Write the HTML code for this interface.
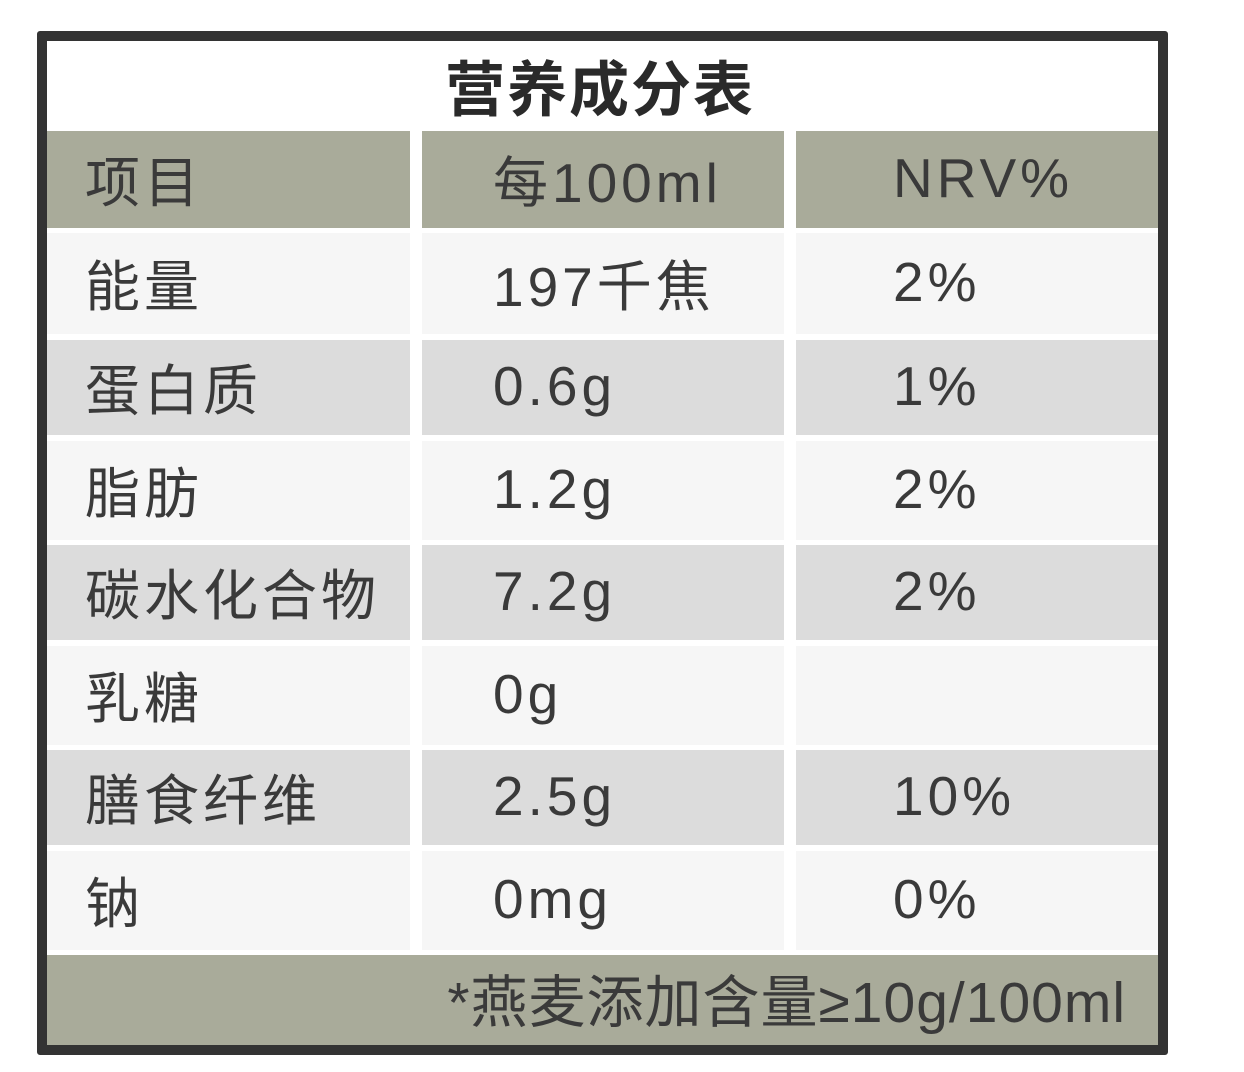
<!DOCTYPE html>
<html><head><meta charset="utf-8"><style>
body{margin:0;width:1244px;height:1072px;background:#fff;position:relative;overflow:hidden;font-family:"Liberation Sans","Noto Sans CJK SC",sans-serif;color:#3a3a3a}
.frame{position:absolute;left:37px;top:31px;width:1111px;height:1004px;border:10px solid #333;background:#fff;border-radius:3px}
.c{position:absolute;display:flex;align-items:center;font-size:55px;box-sizing:border-box;white-space:nowrap;letter-spacing:4px;padding-bottom:4px}
.n{letter-spacing:4px}
.h{background:#a9ab9a}
.g{background:#dcdcdc}
.w{background:#f6f6f6}
.t{position:absolute;left:0;width:1200px;top:46px;text-align:center;font-size:60px;letter-spacing:2px;font-weight:bold;color:#2a2a2a;font-family:"Noto Sans CJK SC",sans-serif;line-height:80px}
</style></head><body>
<div class="frame"></div>
<div class="t">营养成分表</div>
<div class="c h" style="left:47px;top:131px;width:363px;height:97px;padding-left:38px">项目</div>
<div class="c h" style="left:422px;top:131px;width:362px;height:97px;padding-left:71px">每100ml</div>
<div class="c h" style="left:796px;top:131px;width:362px;height:97px;padding-left:97px">NRV%</div>

<div class="c w" style="left:47px;top:233px;width:363px;height:101px;padding-left:38px">能量</div>
<div class="c w n" style="left:422px;top:233px;width:362px;height:101px;padding-left:71px">197千焦</div>
<div class="c w n" style="left:796px;top:233px;width:362px;height:101px;padding-left:97px">2%</div>

<div class="c g" style="left:47px;top:340px;width:363px;height:95px;padding-left:38px">蛋白质</div>
<div class="c g n" style="left:422px;top:340px;width:362px;height:95px;padding-left:71px">0.6g</div>
<div class="c g n" style="left:796px;top:340px;width:362px;height:95px;padding-left:97px">1%</div>

<div class="c w" style="left:47px;top:441px;width:363px;height:99px;padding-left:38px">脂肪</div>
<div class="c w n" style="left:422px;top:441px;width:362px;height:99px;padding-left:71px">1.2g</div>
<div class="c w n" style="left:796px;top:441px;width:362px;height:99px;padding-left:97px">2%</div>

<div class="c g" style="left:47px;top:545px;width:363px;height:95px;padding-left:38px">碳水化合物</div>
<div class="c g n" style="left:422px;top:545px;width:362px;height:95px;padding-left:71px">7.2g</div>
<div class="c g n" style="left:796px;top:545px;width:362px;height:95px;padding-left:97px">2%</div>

<div class="c w" style="left:47px;top:646px;width:363px;height:99px;padding-left:38px">乳糖</div>
<div class="c w n" style="left:422px;top:646px;width:362px;height:99px;padding-left:71px">0g</div>
<div class="c w" style="left:796px;top:646px;width:362px;height:99px;padding-left:97px"></div>

<div class="c g" style="left:47px;top:750px;width:363px;height:95px;padding-left:38px">膳食纤维</div>
<div class="c g n" style="left:422px;top:750px;width:362px;height:95px;padding-left:71px">2.5g</div>
<div class="c g n" style="left:796px;top:750px;width:362px;height:95px;padding-left:97px">10%</div>

<div class="c w" style="left:47px;top:851px;width:363px;height:99px;padding-left:38px">钠</div>
<div class="c w n" style="left:422px;top:851px;width:362px;height:99px;padding-left:71px">0mg</div>
<div class="c w n" style="left:796px;top:851px;width:362px;height:99px;padding-left:97px">0%</div>

<div class="c h" style="left:47px;top:955px;width:1111px;height:90px;justify-content:flex-end;padding-right:32px;font-size:57px;letter-spacing:1px">*燕麦添加含量≥10g/100ml</div>
</body></html>
